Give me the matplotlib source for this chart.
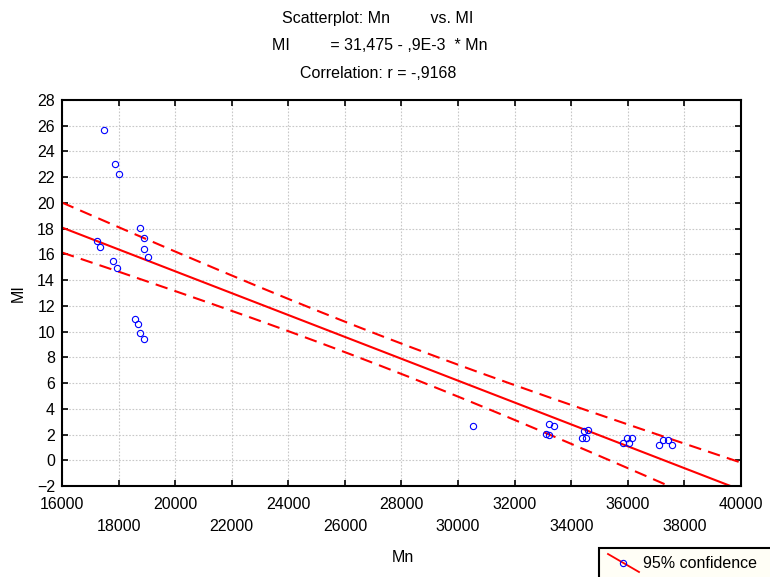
import numpy as np
import matplotlib
matplotlib.use("Agg")
import matplotlib.pyplot as plt
from matplotlib.patches import Rectangle
from matplotlib.lines import Line2D

plt.rcParams['font.family'] = ['Liberation Sans', 'DejaVu Sans']

# data
mn = [17485, 17875, 18015, 17237, 17343, 17803, 17944, 18757, 18898, 18898,
      19040, 18580, 18686, 18757, 18898,
      30518, 33225, 33381, 33109, 33225, 34462, 34582, 34370, 34511,
      35972, 36148, 35820, 36043, 37092, 37234, 37432, 37552]
mi = [25.67, 23.03, 22.25, 17.04, 16.58, 15.49, 14.95, 18.05, 17.28, 16.42,
      15.80, 10.98, 10.59, 9.89, 9.43,
      2.65, 2.80, 2.65, 2.05, 2.00, 2.30, 2.36, 1.76, 1.76,
      1.76, 1.76, 1.32, 1.32, 1.17, 1.58, 1.58, 1.17]
major_x = [16000, 20000, 24000, 28000, 32000, 36000, 40000]
minor_x = [18000, 22000, 26000, 30000, 34000, 38000]
y_ticks = list(range(-2, 29, 2))

x = np.array(mn, float)
y = np.array(mi, float)
n = len(x)
b, a = np.polyfit(x, y, 1)
resid = y - (a + b * x)
s = np.sqrt(np.sum(resid ** 2) / (n - 2))
t = 2.042
xs = np.linspace(16000, 40000, 300)
fit = a + b * xs
se = s * np.sqrt(1.0 / n + (xs - x.mean()) ** 2 / np.sum((x - x.mean()) ** 2))

fs = 11.5
fig = plt.figure(figsize=(7.7, 5.77), dpi=100)
ax = fig.add_axes([0.0805, 0.1577, 0.8818, 0.669])

ax.plot(xs, fit, color='red', lw=1.5)
ax.plot(xs, fit + t * se, color='red', lw=1.5, ls=(0, (6, 3.5)))
ax.plot(xs, fit - t * se, color='red', lw=1.5, ls=(0, (6, 3.5)))
ax.plot(x, y, 'o', mfc='none', mec='blue', ms=4.5, mew=0.8)

ax.set_xlim(16000, 40000)
ax.set_ylim(-2, 28)
ax.set_xticks(major_x)
ax.set_xticklabels([str(v) for v in major_x])
ax.set_xticks(minor_x, minor=True)
ax.set_xticklabels([str(v) for v in minor_x], minor=True)
ax.set_yticks(y_ticks)
ax.tick_params(which='both', direction='in', length=4, width=1.2,
               top=True, right=True, labelsize=fs)
ax.tick_params(axis='x', which='major', pad=8)
ax.tick_params(axis='x', which='minor', pad=24)
ax.tick_params(axis='y', pad=5)
ax.grid(True, which='both', color='#c8c8c8', ls=(0, (1.5, 1.5)), lw=0.8)
for sp in ax.spines.values():
    sp.set_linewidth(1.5)

ax.set_ylabel('MI', fontsize=fs, labelpad=8)
fig.text(403 / 770, 1 - 558 / 577, 'Mn', ha='center', va='center', fontsize=fs)

fig.text(282 / 770, 1 - 18 / 577, 'Scatterplot: Mn         vs. MI', ha='left', va='center', fontsize=fs)
fig.text(272 / 770, 1 - 45 / 577, 'MI         = 31,475 - ,9E-3  * Mn', ha='left', va='center', fontsize=fs)
fig.text(300 / 770, 1 - 73 / 577, 'Correlation: r = -,9168', ha='left', va='center', fontsize=fs)

# clipped legend box at bottom right
fig.patches.append(Rectangle((599 / 770, 1 - 600 / 577), 0.3, 52 / 577,
                             transform=fig.transFigure, facecolor='#fffef6',
                             edgecolor='black', lw=1.5))
fig.lines.append(Line2D([608 / 770, 639 / 770], [1 - 554 / 577, 1 - 572 / 577],
                        transform=fig.transFigure, color='red', lw=1.3))
fig.lines.append(Line2D([623 / 770], [1 - 563 / 577], transform=fig.transFigure,
                        marker='o', mfc='none', mec='blue', ms=4.5, mew=0.8))
fig.text(643 / 770, 1 - 564 / 577, '95% confidence', va='center', fontsize=fs)

fig.savefig('out.png', dpi=100)
